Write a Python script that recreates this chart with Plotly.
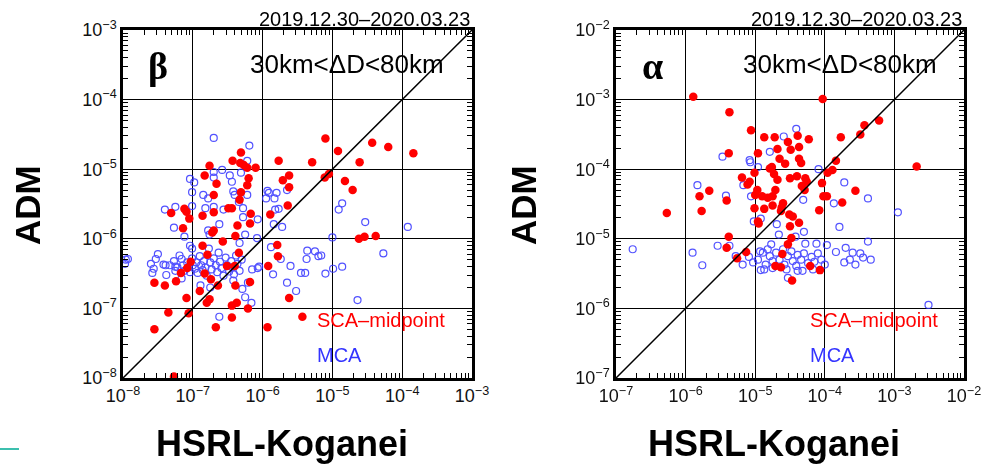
import plotly.graph_objects as go

# ---------------- data (log10 values) ----------------
# Left panel (beta)
beta_sca_logx = [-5.10,-4.43,-4.20,-3.84,-4.92,-5.29,-4.61,-5.77,-6.31,-6.43,-6.32,-6.27,-6.22,-6.10,-6.76,
                 -5.05,-5.11,-4.82,-4.71,-5.62,-5.71,-5.62,-6.20,-6.22,-6.83,-6.66,-6.70,-6.31,-6.33,-6.44,
                 -6.49,-5.64,-5.89,-6.17,-6.18,-6.36,-6.39,-6.70,-6.86,-7.12,-7.09,-7.05,-7.31,-7.14,-6.70,
                 -6.72,-6.57,-6.86,-5.79,-5.78,-6.34,-6.79,-7.03,-7.08,-7.17,-7.24,-7.55,-7.40,-6.83,-6.74,
                 -6.64,-6.90,-6.39,-6.18,-6.51,-6.40,-7.09,-6.76,-6.80,-6.44,-6.37,-6.21,-5.92,-5.62,-7.35,
                 -7.06,-6.44,-5.43,-7.55,-6.67,-5.93,-4.62,-4.54,-4.38,-7.27]
beta_sca_logy = [-4.56,-4.62,-4.68,-4.77,-4.74,-4.90,-4.90,-4.88,-4.76,-4.88,-4.91,-4.94,-4.98,-4.98,-4.95,
                 -5.07,-5.12,-5.17,-5.30,-5.09,-5.16,-5.26,-5.13,-5.23,-5.09,-5.21,-5.37,-5.33,-5.44,-5.56,
                 -5.56,-5.52,-5.65,-5.64,-5.78,-5.81,-5.96,-5.62,-5.67,-5.57,-5.61,-5.71,-5.63,-5.85,-5.88,
                 -5.91,-6.04,-6.10,-6.09,-6.25,-6.20,-6.23,-6.33,-6.42,-6.49,-6.61,-6.63,-6.67,-6.50,-6.58,
                 -6.67,-6.75,-6.67,-6.62,-6.39,-6.39,-6.85,-6.87,-6.92,-6.96,-6.92,-7.00,-6.39,-6.85,-7.06,
                 -7.07,-7.13,-7.12,-7.30,-7.27,-7.27,-6.00,-5.97,-5.96,-7.98]

beta_mca_logx = [-6.70,-6.19,-6.22,-6.58,-6.70,-6.31,-7.04,-6.98,-6.70,-6.47,-6.44,-7.01,-6.85,-6.78,-6.42,
                 -6.40,-6.22,-5.93,-5.91,-5.95,-5.80,-5.83,-5.65,-6.34,-6.28,-7.40,-7.25,-7.01,-6.82,-6.70,
                 -6.56,-5.82,-5.77,-6.28,-6.07,-6.62,-5.84,-5.72,-7.27,-6.78,-6.76,-7.12,-6.25,-6.08,-6.33,
                 -4.86,-4.91,-4.53,-3.92,-5.00,-5.88,-5.74,-5.36,-5.25,-5.20,-5.37,-5.16,-4.27,-5.60,-5.85,
                 -5.45,-5.39,-5.10,-4.99,-4.86,-5.65,-5.52,-4.64,-6.15,-6.07,-6.05,-6.21,-6.29,-6.25,-6.16,
                 -6.62,-6.42,
                 -7.96,-7.93,-7.97,-7.60,-7.56,-7.58,-7.53,-7.50,-7.42,-7.39,-7.38,-7.33,-7.27,-7.25,-7.25,
                 -7.22,-7.19,-7.16,-7.14,-7.12,-7.16,-7.08,-7.06,-7.04,-7.01,-7.00,-6.97,-6.95,-6.93,-6.90,
                 -6.88,-6.86,-6.84,-6.82,-6.80,-6.77,-6.75,-6.73,-6.70,-6.67,-6.65,-6.63,-6.61,-6.59,-6.56,
                 -6.53,-6.51,-6.48,-6.45,-6.43,-6.41,-6.38,-6.36,-6.33,-6.30,-6.89,-6.75,-7.04,-7.01]
beta_mca_logy = [-4.55,-4.66,-4.88,-5.01,-5.04,-5.05,-5.14,-5.19,-5.12,-5.09,-5.18,-5.33,-5.37,-5.42,-5.32,
                 -5.37,-5.37,-5.31,-5.34,-5.42,-5.34,-5.42,-5.30,-5.47,-5.56,-5.58,-5.54,-5.53,-5.56,-5.54,
                 -5.58,-5.58,-5.57,-5.69,-5.72,-5.79,-5.79,-5.83,-5.84,-5.88,-5.94,-5.97,-5.94,-5.99,-6.06,
                 -5.49,-5.58,-5.76,-5.83,-5.98,-6.12,-6.29,-6.17,-6.18,-6.25,-6.29,-6.24,-6.21,-6.39,-6.51,
                 -6.49,-6.49,-6.50,-6.43,-6.40,-6.63,-6.75,-6.88,-6.44,-6.42,-6.40,-6.63,-6.72,-6.84,-6.92,
                 -7.12,-6.60,
                 -6.30,-6.29,-6.36,-6.36,-6.43,-6.49,-6.29,-6.22,-6.37,-6.38,-6.52,-6.38,-6.32,-6.40,-6.46,
                 -6.41,-6.24,-6.29,-6.38,-6.46,-6.57,-6.34,-6.41,-6.48,-6.28,-6.38,-6.43,-6.34,-6.49,-6.25,
                 -6.38,-6.45,-6.32,-6.41,-6.53,-6.14,-6.34,-6.44,-6.28,-6.38,-6.48,-6.20,-6.33,-6.42,-6.53,
                 -6.27,-6.38,-6.47,-6.32,-6.41,-6.51,-6.24,-6.36,-6.46,-6.30,-6.67,-6.70,-6.10,-6.14]

# Right panel (alpha)
alpha_sca_logx = [-5.89,-4.03,-5.37,-5.06,-4.87,-4.72,-4.53,-4.39,-4.23,-4.37,-4.49,-4.68,-4.96,-5.38,-4.65,
                  -4.57,-4.37,-4.34,-4.76,-4.79,-5.01,-5.19,-5.08,-5.11,-4.73,-4.68,-4.50,-4.40,-4.28,-4.26,
                  -4.33,-4.29,-4.04,-3.96,-3.89,-3.84,-3.77,-3.49,-3.43,-3.22,-2.68,-3.56,-3.75,-4.02,-3.97,
                  -4.08,-5.66,-5.80,-5.41,-5.77,-6.27,-5.38,-5.41,-5.26,-5.13,-5.00,-4.97,-4.90,-4.82,-4.75,
                  -4.71,-4.87,-4.96,-4.95,-4.75,-4.62,-4.60,-4.63,-4.51,-4.46,-4.50,-4.37,-4.48,-4.53,-4.61,
                  -4.71,-4.63,-4.47,-4.21,-4.07,-5.01]
alpha_sca_logy = [-2.96,-2.99,-3.18,-3.44,-3.54,-3.54,-3.61,-3.52,-3.57,-3.68,-3.72,-3.71,-3.77,-3.77,-3.85,
                  -3.92,-3.85,-3.91,-3.97,-3.99,-4.05,-4.12,-4.18,-4.22,-4.07,-4.15,-4.13,-4.10,-4.13,-4.18,
                  -4.24,-4.30,-4.20,-4.05,-4.01,-3.88,-3.54,-3.50,-3.37,-3.30,-3.96,-4.31,-4.48,-4.39,-4.39,
                  -4.59,-4.31,-4.39,-4.45,-4.60,-4.63,-4.97,-5.13,-5.28,-5.19,-4.37,-4.30,-4.39,-4.41,-4.39,
                  -4.30,-4.57,-4.75,-4.78,-4.52,-4.55,-4.49,-4.60,-4.65,-4.68,-4.82,-4.77,-4.99,-5.08,-5.22,
                  -5.39,-5.41,-5.60,-5.39,-5.45,-4.56]

alpha_mca_logx = [-4.41,-4.59,-4.79,-5.47,-5.08,-5.07,-4.96,-4.09,-5.83,-5.17,-5.42,-5.06,-4.31,-3.87,-3.72,
                  -3.38,-2.95,-3.79,-3.38,-5.02,-4.92,-4.69,-4.66,-4.42,-4.30,-4.28,-4.12,-3.97,-6.76,-5.90,
                  -5.76,-5.54,-5.37,-5.28,-5.18,-5.09,-5.03,-4.92,-4.87,-3.84,-3.70,-3.60,-3.49,-3.45,-3.34,
                  -3.56,-3.72,-3.64,-2.51,-4.53,-4.32,
                  -4.89,-4.82,-4.79,-4.75,-4.70,-4.65,-4.60,-4.58,-4.53,-4.48,-4.46,-4.41,-4.39,-4.34,-4.30,
                  -4.24,-4.19,-4.15,-4.10,-4.05,-4.00,-4.17,-4.75,-4.85,-4.96,-4.93,-4.77,-4.55,-4.39]
alpha_mca_logy = [-3.42,-3.53,-3.75,-3.82,-3.87,-3.90,-3.97,-4.00,-4.23,-4.23,-4.38,-4.39,-4.44,-4.49,-4.19,
                  -4.42,-4.62,-4.83,-5.04,-4.75,-4.71,-4.79,-4.94,-4.97,-4.90,-5.07,-5.07,-5.09,-5.15,-5.20,
                  -5.38,-5.10,-5.10,-5.25,-5.37,-5.26,-5.34,-5.45,-5.44,-5.19,-5.13,-5.20,-5.21,-5.27,-5.30,
                  -5.37,-5.34,-5.30,-5.95,-5.56,-5.46,
                  -5.20,-5.15,-5.25,-5.32,-5.20,-5.30,-5.15,-5.37,-5.25,-5.18,-5.32,-5.39,-5.23,-5.30,-5.21,
                  -5.35,-5.26,-5.33,-5.21,-5.30,-5.37,-5.44,-5.42,-5.37,-5.30,-5.18,-5.08,-5.44,-5.46]

# axes (log10 exponents)
beta_range = [-8, -3]
alpha_range = [-7, -2]
beta_ticks = [-8, -7, -6, -5, -4, -3]
alpha_ticks = [-7, -6, -5, -4, -3, -2]
minor_mults = [2, 3, 4, 5, 6, 7, 8, 9]

period_label = "2019.12.30\u20132020.03.23"
dist_label = "30km<\u0394D<80km"
sca_label = "SCA\u2013midpoint"
mca_label = "MCA"
x_title = "HSRL-Koganei"
y_title = "ADM"

# ---------------- figure ----------------
W, H = 1000, 469
def px(x): return x / W
def py(y): return 1 - y / H

RED = "#ff0000"
BLUE = "#3434ff"

fig = go.Figure()

def p10(a): return [10 ** v for v in a]

def add_panel(fig, xa, ya, xm, ym, mca_x, mca_y, sca_x, sca_y, rng):
    # invisible trace to carry the minor-tick overlay axes
    fig.add_trace(go.Scatter(x=p10(rng), y=p10(rng), mode="markers", xaxis=xm, yaxis=ym,
                             marker=dict(size=1, opacity=0), showlegend=False, hoverinfo="skip"))
    fig.add_trace(go.Scatter(x=p10(mca_x), y=p10(mca_y), mode="markers", xaxis=xa, yaxis=ya,
                             marker=dict(symbol="circle-open", size=7, color=BLUE, line=dict(width=1.2, color=BLUE)),
                             opacity=0.85, showlegend=False, hoverinfo="skip"))
    fig.add_trace(go.Scatter(x=p10(sca_x), y=p10(sca_y), mode="markers", xaxis=xa, yaxis=ya,
                             marker=dict(symbol="circle", size=8.5, color=RED),
                             showlegend=False, hoverinfo="skip"))
    fig.add_trace(go.Scatter(x=p10(rng), y=p10(rng), mode="lines", xaxis=xa, yaxis=ya,
                             line=dict(color="black", width=1.5), showlegend=False, hoverinfo="skip"))

add_panel(fig, "x", "y", "x3", "y3", beta_mca_logx, beta_mca_logy, beta_sca_logx, beta_sca_logy, beta_range)
add_panel(fig, "x2", "y2", "x4", "y4", alpha_mca_logx, alpha_mca_logy, alpha_sca_logx, alpha_sca_logy, alpha_range)

def tl(e):
    return "10<sup>\u2212%d</sup>" % (-e)

def axis(rng, ticks, domain, anchor):
    return dict(type="log", range=rng, domain=domain, anchor=anchor, automargin=False,
                tickmode="array", tickvals=p10(ticks), ticktext=[tl(t) for t in ticks],
                ticks="inside", ticklen=8, tickwidth=1, tickcolor="black",
                showgrid=True, gridcolor="black", gridwidth=1,
                showline=True, linecolor="black", linewidth=2.5, mirror="allticks",
                zeroline=False, fixedrange=True,
                tickfont=dict(family="Liberation Sans, Arial", size=18, color="#111111"))

def minor_axis(rng, domain, anchor, over):
    vals = [m * 10 ** d for d in range(rng[0], rng[1]) for m in minor_mults]
    return dict(type="log", range=rng, domain=domain, anchor=anchor, overlaying=over, automargin=False,
                tickmode="array", tickvals=vals, showticklabels=False,
                ticks="inside", ticklen=5, tickwidth=1, tickcolor="black",
                showgrid=False, showline=False, mirror="allticks", zeroline=False, fixedrange=True)

ydom = [py(378), py(30)]
xdom1 = [px(123), px(472)]
xdom2 = [px(616), px(964)]
fig.update_layout(
    xaxis=axis(beta_range, beta_ticks, xdom1, "y"),
    yaxis=axis(beta_range, beta_ticks, ydom, "x"),
    xaxis2=axis(alpha_range, alpha_ticks, xdom2, "y2"),
    yaxis2=axis(alpha_range, alpha_ticks, ydom, "x2"),
    xaxis3=minor_axis(beta_range, xdom1, "y3", "x"),
    yaxis3=minor_axis(beta_range, ydom, "x3", "y"),
    xaxis4=minor_axis(alpha_range, xdom2, "y4", "x2"),
    yaxis4=minor_axis(alpha_range, ydom, "x4", "y2"),
)

ann = []
def A(text, x, y, size, color="black", bold=False, family="Liberation Sans, Arial", xanchor="center", angle=0):
    if bold:
        text = "<b>" + text + "</b>"
    ann.append(dict(text=text, x=px(x), y=py(y), xref="paper", yref="paper", showarrow=False,
                    xanchor=xanchor, yanchor="middle", textangle=angle,
                    font=dict(family=family, size=size, color=color)))

for (xl, xr, greek, gx) in [(123, 472, "\u03b2", 158), (616, 964, "\u03b1", 652)]:
    A(period_label, xr, 19, 20, xanchor="right")
    A(dist_label, xl + 125, 64, 26, xanchor="left")
    A(greek, gx, 66, 38, bold=True, family="Liberation Serif, Times New Roman")
    A(sca_label, xl + 192, 320, 20, color=RED, xanchor="left")
    A(mca_label, xl + 192, 355, 20, color=BLUE, xanchor="left")
    A(x_title, (xl + xr) / 2 - 16, 443, 36, bold=True)

A(y_title, 27, 205, 35, bold=True, angle=-90)
A(y_title, 523, 205, 35, bold=True, angle=-90)

fig.update_layout(annotations=ann)
fig.add_shape(type="line", xref="paper", yref="paper", x0=0, x1=px(19), y0=py(449), y1=py(449),
              line=dict(color="#3cbfae", width=2))

fig.update_layout(width=W, height=H, margin=dict(l=0, r=0, t=0, b=0),
                  paper_bgcolor="white", plot_bgcolor="white", showlegend=False)

fig.write_html("out.html", config={"displayModeBar": False},
               post_script="document.body.style.margin='0';document.body.style.overflow='hidden';")
